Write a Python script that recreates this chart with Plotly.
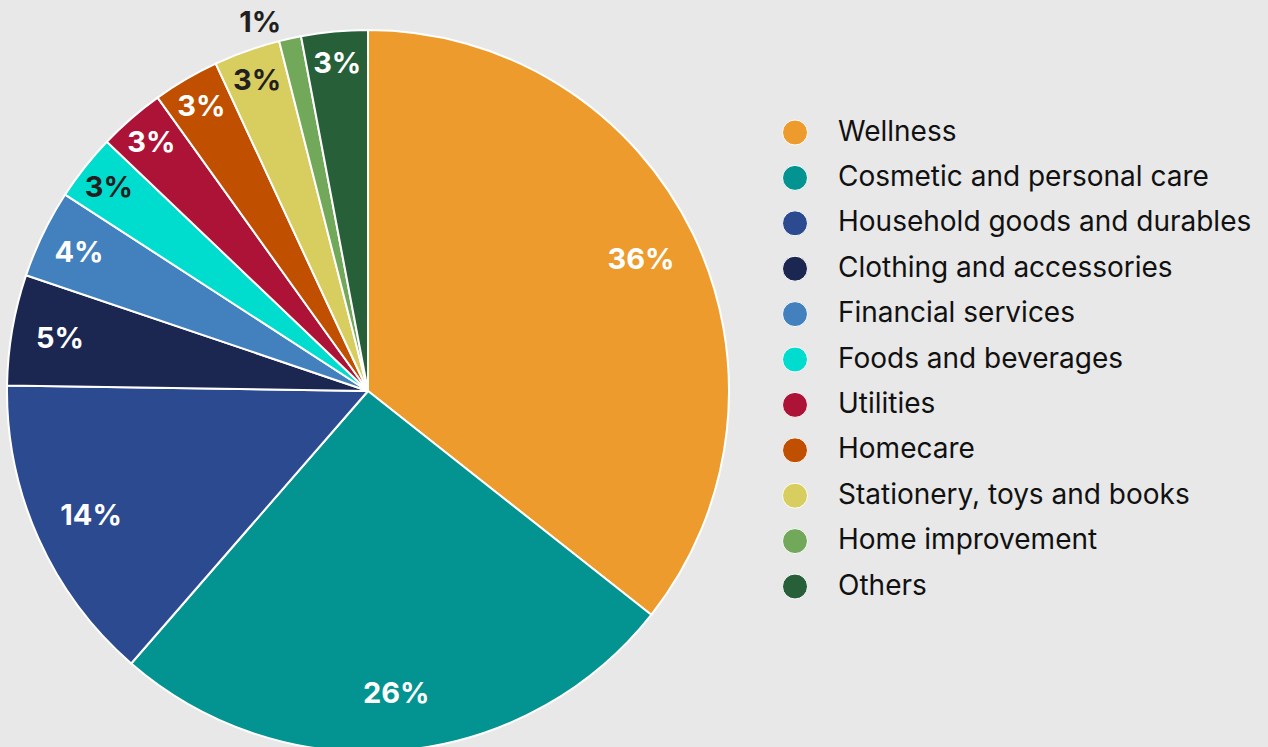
import plotly.graph_objects as go

# Share of sellers by category (%)
categories = [
    "Wellness",
    "Cosmetic and personal care",
    "Household goods and durables",
    "Clothing and accessories",
    "Financial services",
    "Foods and beverages",
    "Utilities",
    "Homecare",
    "Stationery, toys and books",
    "Home improvement",
    "Others",
]
shares = [36, 26, 14, 5, 4, 3, 3, 3, 3, 1, 3]

colors = [
    "#EC9B2C", "#039390", "#2C4A8F", "#1B2651", "#4281BE", "#00DDCE",
    "#AD1336", "#C04F00", "#D8CD5F", "#72A859", "#265F38",
]
label_colors = [
    "white", "white", "white", "white", "white", "#231F20",
    "white", "white", "#231F20", "#231F20", "white",
]
label_positions = ["inside"] * 9 + ["outside", "inside"]

BG = "#E8E8E8"
W, H = 1268, 760          # canvas runs a little past the visible window, pie is cropped at the bottom
FONT = "Inter"

# pie geometry (pixels)
pie_left, pie_size, pie_top = 7, 722, 30
dom_x = [pie_left / W, (pie_left + pie_size) / W]
dom_y = [1 - (pie_top + pie_size) / H, 1 - pie_top / H]

fig = go.Figure()

# coloured slices
fig.add_trace(go.Pie(
    labels=categories,
    values=shares,
    sort=False,
    direction="clockwise",
    rotation=0,
    marker=dict(colors=colors, line=dict(color="white", width=2)),
    textinfo="none",
    domain=dict(x=dom_x, y=dom_y),
    showlegend=False,
    hovertemplate="%{label}: %{value}%<extra></extra>",
))

# transparent ring carrying the percentage labels near the rim
fig.add_trace(go.Pie(
    labels=categories,
    values=shares,
    sort=False,
    direction="clockwise",
    rotation=0,
    hole=0.68,
    marker=dict(colors=["rgba(0,0,0,0)"] * len(shares), line=dict(width=0)),
    text=[f"{v}%" for v in shares],
    texttemplate="%{text}",
    textposition=label_positions,
    insidetextorientation="horizontal",
    textfont=dict(family=FONT, size=29, color=label_colors, weight="bold"),
    insidetextfont=dict(family=FONT, size=29, color=label_colors, weight="bold"),
    outsidetextfont=dict(family=FONT, size=29, color="#231F20", weight="bold"),
    domain=dict(x=dom_x, y=dom_y),
    showlegend=False,
    hoverinfo="skip",
))

# legend drawn as circles + labels in pixel space
leg_marker_x, leg_text_x, leg_y0, leg_dy = 795, 838, 132.5, 45.4
leg_y = [leg_y0 + i * leg_dy for i in range(len(categories))]

fig.add_trace(go.Scatter(
    x=[leg_marker_x] * len(categories),
    y=leg_y,
    mode="markers",
    marker=dict(size=25, color=colors, line=dict(color="white", width=1)),
    hoverinfo="skip",
    showlegend=False,
    xaxis="x", yaxis="y",
))
fig.add_trace(go.Scatter(
    x=[leg_text_x] * len(categories),
    y=[y + 1 for y in leg_y],
    mode="text",
    text=categories,
    textposition="middle right",
    textfont=dict(family=FONT, size=28, color="#111111"),
    hoverinfo="skip",
    showlegend=False,
    xaxis="x", yaxis="y",
))

fig.update_layout(
    width=W,
    height=H,
    margin=dict(l=0, r=0, t=0, b=0),
    paper_bgcolor=BG,
    plot_bgcolor="rgba(0,0,0,0)",
    uniformtext=dict(minsize=29, mode="show"),
    xaxis=dict(range=[0, W], domain=[0, 1], visible=False, fixedrange=True),
    yaxis=dict(range=[H, 0], domain=[0, 1], visible=False, fixedrange=True),
    showlegend=False,
)

fig.write_html(
    "out.html",
    post_script="document.documentElement.style.overflow='hidden';"
                "document.body.style.overflow='hidden';",
)
